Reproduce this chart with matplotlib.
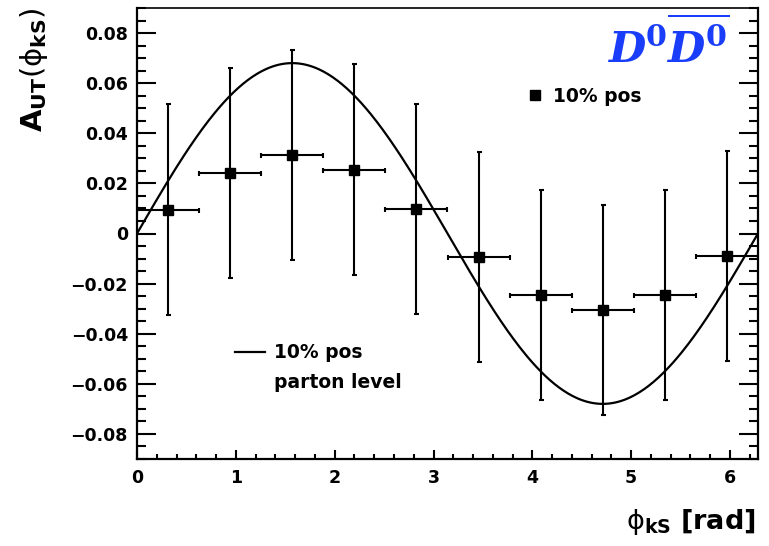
import numpy as np
import matplotlib
matplotlib.use("Agg")
import matplotlib.pyplot as plt
from matplotlib.lines import Line2D
from matplotlib.ticker import MultipleLocator

plt.rcParams["font.family"] = ["DejaVu Sans"]
plt.rcParams["mathtext.fontset"] = "custom"
plt.rcParams["mathtext.rm"] = "DejaVu Sans"
plt.rcParams["mathtext.bf"] = "DejaVu Sans:bold"
plt.rcParams["mathtext.it"] = "DejaVu Sans:italic"
plt.rcParams["mathtext.bfit"] = "DejaVu Serif:bold:italic"
plt.rcParams["mathtext.sf"] = "DejaVu Serif:bold"
plt.rcParams["axes.unicode_minus"] = True

# Binned asymmetry in phi_kS (10 bins over [0, 2pi])
phi_centers = [0.314, 0.942, 1.571, 2.199, 2.827, 3.456, 4.084, 4.712, 5.341, 5.969]
phi_halfwidth = [0.314] * 10
a_ut = [0.0095, 0.0242, 0.0314, 0.0255, 0.0098, -0.0094, -0.0245, -0.0306, -0.0245, -0.0090]
a_ut_err = [0.0420, 0.0418, 0.0418, 0.0420, 0.0420, 0.0420, 0.0420, 0.0420, 0.0420, 0.0420]

# Parton-level modulation A * sin(phi_kS)
parton_amplitude = 0.068

fig = plt.figure(figsize=(7.69, 5.46), dpi=100)
W, H = 769, 546
left, right, top, bottom = 137, 758, 8, 459
ax = fig.add_axes([left / W, 1 - bottom / H, (right - left) / W, (bottom - top) / H])

phi_curve = np.linspace(0, 2 * np.pi, 400)
curve, = ax.plot(phi_curve, parton_amplitude * np.sin(phi_curve), color="black", lw=1.6)

pts = ax.errorbar(phi_centers, a_ut, xerr=phi_halfwidth, yerr=a_ut_err, fmt="s",
                  color="black", ms=7.2, elinewidth=1.5, capsize=1.8, capthick=1.5,
                  zorder=3)

ax.set_xlim(0, 2 * np.pi)
ax.set_ylim(-0.09, 0.09)
ax.xaxis.set_major_locator(MultipleLocator(1))
ax.xaxis.set_minor_locator(MultipleLocator(0.2))
ax.yaxis.set_major_locator(MultipleLocator(0.02))
ax.yaxis.set_minor_locator(MultipleLocator(0.005))
ax.yaxis.set_major_formatter(plt.FuncFormatter(
    lambda v, p: "0" if abs(v) < 1e-9 else f"{v:.2f}".replace("-", "\u2212")))

for s in ax.spines.values():
    s.set_linewidth(1.6)
ax.spines["top"].set_linewidth(1.2)

ax.tick_params(axis="y", which="major", direction="in", length=13.5, width=1.5,
               right=True, left=True, pad=6.5, labelsize=12.5)
ax.tick_params(axis="y", which="minor", direction="in", length=6.8, width=1.5,
               right=True, left=True)
ax.tick_params(axis="x", which="major", direction="in", length=6.5, width=1.5,
               top=False, pad=7.5, labelsize=12.5)
ax.tick_params(axis="x", which="minor", direction="in", length=3.3, width=1.5, top=False)
for lbl in ax.get_xticklabels() + ax.get_yticklabels():
    lbl.set_fontweight("bold")

# Axis titles
fig.text(34 / W, 1 - 7 / H, r"$\mathbf{A}_{\mathbf{UT}}(\mathrm{\phi}_{\mathbf{kS}})$",
         rotation=90, ha="center", va="top", fontsize=21)
fig.text(756 / W, 9 / H, r"$\mathrm{\phi}_{\mathbf{kS}}\ \mathbf{[rad]}$",
         ha="right", va="bottom", fontsize=19.5)

# Process label
fig.text(730 / W, 1 - 63 / H, r"$\mathbfit{D}^{\mathsf{0}}\overline{\mathbfit{D}^{\mathsf{0}}}$",
         ha="right", va="baseline", fontsize=31, color="#1a3dfa")

legend_font = {"weight": "bold", "size": 13.5}
leg1 = ax.legend([Line2D([], [], ls="none", marker="s", color="black", ms=7.2)],
                 ["10% pos"], loc="center left",
                 bbox_to_anchor=((527 - left) / (right - left), (bottom - 96) / (bottom - top)),
                 frameon=False, prop=legend_font, borderpad=0, borderaxespad=0,
                 handlelength=0.9, handletextpad=0.5)
ax.add_artist(leg1)
ax.legend([Line2D([], [], color="black", lw=1.6), Line2D([], [], color="none")],
          ["10% pos", "parton level"], loc="center left",
          bbox_to_anchor=((235 - left) / (right - left), (bottom - 367.5) / (bottom - top)),
          frameon=False, prop=legend_font, borderpad=0, borderaxespad=0,
          handlelength=1.6, handletextpad=0.5, labelspacing=0.55)

fig.savefig("out.png", dpi=100)
